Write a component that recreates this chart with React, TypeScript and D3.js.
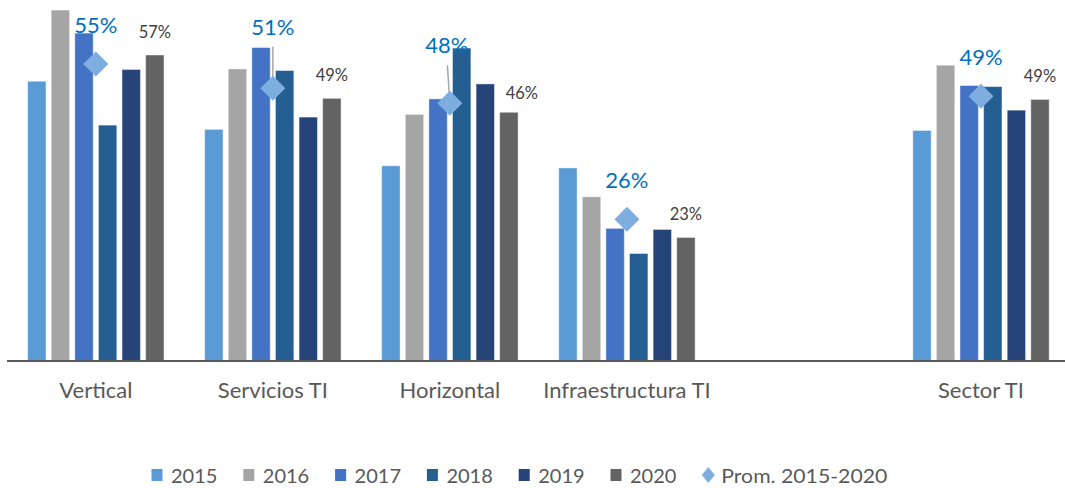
import React from "react";
import * as d3 from "d3";

const categories = ["Vertical", "Servicios TI", "Horizontal", "Infraestructura TI", "", "Sector TI"];
const years = ["2015", "2016", "2017", "2018", "2019", "2020"];
const v2015 = [52.2, 43.2, 36.4, 36.0, null, 43.0];
const v2016 = [65.5, 54.5, 46.0, 30.6, null, 55.2];
const v2017 = [61.2, 58.5, 48.9, 24.7, null, 51.4];
const v2018 = [44.0, 54.2, 58.4, 20.0, null, 51.2];
const v2019 = [54.4, 45.5, 51.7, 24.5, null, 46.8];
const v2020 = [57.1, 49.0, 46.4, 23.0, null, 48.8];
const prom = [55.4, 50.9, 48.1, 26.4, null, 49.4];
const promLabel = "Prom. 2015-2020";

const series = [v2015, v2016, v2017, v2018, v2019, v2020];
const colors = ["#5B9BD5", "#A5A5A5", "#4472C4", "#255E91", "#264478", "#636363"];
const diamondColor = "#7EAEDF";
const avgTextColor = "#0070C0";
const font = "Lato, 'Open Sans', sans-serif";

// label nudges (style only)
const avgLabelDx = [0, 0, -3, 0, 0, 0];
const avgLabelDy = [0, -22, -18.5, 0, 0, 0];
const lastLabelDx = [0, 0, 13, 0, 0, 0];
const lastLabelDy = [0, 0, 3.5, 0, 0, 0];

const W = 1065;
const H = 488;

export default function App() {
  const keys = categories.map((c, i) => i + ":" + c);
  const x = d3.scaleBand<string>().domain(keys).range([7.3, 1069.5]).padding(0);
  const xi = d3.scaleBand<string>().domain(years).range([-70.8, 70.8]).paddingInner(0.22).paddingOuter(0.11);
  const y = d3.scaleLinear().domain([0, 60]).range([360.5, 39.5]);
  const fmt = (v: number) => d3.format(".0f")(v) + "%";
  const cx = (i: number) => (x(keys[i]) as number) + x.bandwidth() / 2;
  const d = 12.5;
  const legendStep = 91.8;
  const legendX0 = 151.5;

  return (
    <svg width={W} height={H} style={{ position: "absolute", left: 0, top: 0, background: "#fff" }} fontFamily={font}>
      {series.map((vals, s) =>
        vals.map((v, i) =>
          v == null ? null : (
            <rect
              key={s + "-" + i}
              x={cx(i) + (xi(years[s]) as number)}
              y={y(v)}
              width={xi.bandwidth()}
              height={y(0) - y(v)}
              fill={colors[s]}
              stroke="#ffffff"
              strokeOpacity={0.45}
              strokeWidth={1}
            />
          )
        )
      )}
      <line x1={7} x2={W} y1={361} y2={361} stroke="#595959" strokeWidth={2} />
      {categories.map((c, i) => (
        <text key={"c" + i} x={cx(i)} y={398} textAnchor="middle" fontSize={22} fill="#595959">
          {c}
        </text>
      ))}
      {prom.map((v, i) =>
        v == null || avgLabelDy[i] === 0 ? null : (
          <line
            key={"ll" + i}
            x1={cx(i) + avgLabelDx[i] + (i === 2 ? 0.5 : 0)}
            x2={cx(i)}
            y1={y(v) - 31.5 + avgLabelDy[i] + 12}
            y2={y(v)}
            stroke="#A6A6A6"
            strokeWidth={1.5}
          />
        )
      )}
      {prom.map((v, i) =>
        v == null ? null : (
          <path
            key={"d" + i}
            d={`M${cx(i)},${y(v) - d}L${cx(i) + d},${y(v)}L${cx(i)},${y(v) + d}L${cx(i) - d},${y(v)}Z`}
            fill={diamondColor}
          />
        )
      )}
      {prom.map((v, i) =>
        v == null ? null : (
          <text
            key={"al" + i}
            x={cx(i) + avgLabelDx[i]}
            y={y(v) - 31.5 + avgLabelDy[i]}
            textAnchor="middle"
            fontSize={22}
            fill={avgTextColor}
          >
            {fmt(v)}
          </text>
        )
      )}
      {v2020.map((v, i) =>
        v == null ? null : (
          <text
            key={"l20" + i}
            x={cx(i) + (xi("2020") as number) + xi.bandwidth() / 2 + lastLabelDx[i]}
            y={y(v) - 17 + lastLabelDy[i]}
            textAnchor="middle"
            fontSize={16.5}
            fill="#404040"
          >
            {fmt(v)}
          </text>
        )
      )}
      {years.map((yr, s) => (
        <g key={"lg" + s} transform={`translate(${legendX0 + s * legendStep},0)`}>
          <rect x={0} y={469} width={11} height={12} fill={colors[s]} />
          <text x={19.5} y={483} fontSize={20} fill="#595959">
            {yr}
          </text>
        </g>
      ))}
      <g transform={`translate(${legendX0 + 6 * legendStep},0)`}>
        <path d="M6,467L12.5,475L6,483L-0.5,475Z" fill={diamondColor} />
        <text x={19} y={483} fontSize={20} fill="#595959" textLength={166} lengthAdjust="spacingAndGlyphs">
          {promLabel}
        </text>
      </g>
    </svg>
  );
}
